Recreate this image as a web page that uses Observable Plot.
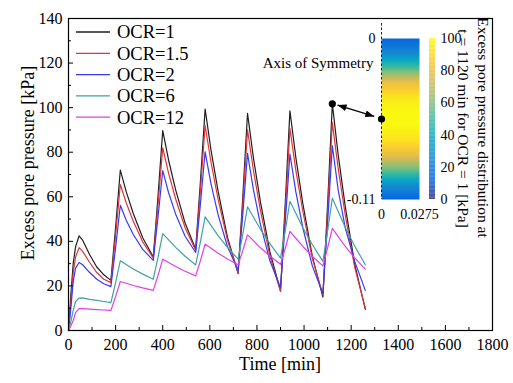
<!DOCTYPE html>
<html>
<head>
<meta charset="utf-8">
<script src="https://cdn.jsdelivr.net/npm/d3@7"></script>
<script src="https://cdn.jsdelivr.net/npm/@observablehq/plot@0.6"></script>
<style>
  html, body { margin: 0; padding: 0; background: #fff; }
  #chart { position: relative; width: 513px; height: 383px; font-family: "Liberation Serif", "Times New Roman", serif; }
  #chart > svg { position: absolute; overflow: visible; }
</style>
</head>
<body>
<div id="chart"></div>
<script>
// Time axis of the simulation [min]
const time = [
  0, 10, 20, 30, 45, 60, 90, 120, 150,
  180, 200, 220, 245, 275, 315,
  360, 380, 400, 425, 455, 495,
  540, 560, 580, 605, 635, 675,
  720, 740, 760, 785, 815, 855,
  900, 920, 940, 965, 995, 1035,
  1080, 1100, 1120, 1145, 1175, 1215,
  1260
];

// Excess pore pressure [kPa] for each over-consolidation ratio
const ocr1 = [
  0, 16, 30, 37.5, 42.5, 40.5, 34, 28.5, 25,
  22.5, 46.3, 72, 62.3, 52.5, 41.6,
  33, 60.2, 89.7, 76.4, 63.1, 48.2,
  36.5, 66.7, 99.4, 80.9, 62.5, 41.8,
  25.5, 60, 97.4, 77.5, 57.6, 35.3,
  17.8, 56.6, 98.6, 77.7, 56.8, 33.4,
  15, 56.6, 101.7, 78.7, 55.6, 29.8,
  9.5
];
const ocr15 = [
  0, 13, 26, 33, 37.2, 35.5, 30.5, 26, 23,
  21.5, 42.6, 65.5, 57.3, 49, 39.8,
  32.5, 56.3, 82, 70.5, 59, 46.1,
  36, 62.9, 92, 75.5, 59, 40.5,
  26, 56.7, 90, 71.9, 53.8, 33.4,
  17.5, 52.6, 90.7, 72, 53.4, 32.4,
  16, 53.2, 93.4, 72.6, 51.7, 28.3,
  10
];
const ocr2 = [
  0, 10, 22, 28, 30.5, 29.5, 26, 23, 21,
  19.7, 37.2, 56.2, 49.5, 43.1, 36.4,
  31.5, 50.8, 71.7, 61.8, 52.2, 42.3,
  35, 56.7, 80.2, 65.8, 52, 37.6,
  27, 52.2, 79.5, 63.2, 47.5, 31.3,
  19.2, 48, 79.2, 62.3, 46, 29,
  16.5, 48.4, 82.9, 63, 46, 31,
  18
];
const ocr6 = [
  0, 4, 9, 13, 14.5, 14.6, 14, 13.5, 13,
  12.5, 21.5, 31.3, 29.6, 27.6, 25.3,
  23, 32.8, 43.5, 40.7, 37.3, 33.3,
  29.4, 39.8, 51, 47.2, 42.6, 37.3,
  32, 43.3, 55.5, 50.9, 45.4, 39,
  32.5, 44.7, 58, 52.6, 46.1, 38.6,
  31, 44.6, 59.4, 53.4, 46.2, 37.9,
  29.5
];
const ocr12 = [
  0, 2, 4.5, 8, 9.8, 9.8, 9.6, 9.4, 9.2,
  9, 15.2, 22, 21.2, 20.2, 19.1,
  18, 24.7, 32, 30.5, 28.7, 26.6,
  24.5, 31.3, 38.7, 36.9, 34.7, 32.1,
  29.5, 35.9, 42.9, 40.3, 37.1, 33.4,
  29.7, 36.8, 44.5, 41.4, 37.7, 33.3,
  29, 37.1, 45.8, 42.1, 37.7, 32.6,
  27.5
];

const seriesNames = ["OCR=1", "OCR=1.5", "OCR=2", "OCR=6", "OCR=12"];
const seriesValues = [ocr1, ocr15, ocr2, ocr6, ocr12];
const seriesColors = ["#1f1f1f", "#e0353c", "#3a3af2", "#3fa39e", "#e23fe6"];

const xTicks = [0, 200, 400, 600, 800, 1000, 1200, 1400, 1600, 1800];
const xMinorTicks = [100, 300, 500, 700, 900, 1100, 1300, 1500, 1700];
const yTicks = [0, 20, 40, 60, 80, 100, 120, 140];
const yMinorTicks = [10, 30, 50, 70, 90, 110, 130];

// Snapshot of the pore pressure field in the soil element
const snapshotTime = 1120;
const depth = [0, -0.01, -0.02, -0.03, -0.04, -0.05, -0.06, -0.07, -0.08, -0.09, -0.10, -0.11];
const snapshotPressure = [14, 26, 52, 80, 94, 99.5, 99, 93, 79, 56, 29, 13];
const widthTicks = [0, 0.0275];
const depthTicks = [0, -0.11];
const colorTicks = [0, 20, 40, 60, 80, 100];

// parula colour map
const parulaStops = [0, 12.5, 25, 37.5, 50, 62.5, 75, 87.5, 100];
const parulaColors = ["#352a87", "#0363e1", "#1485d4", "#06a7c6", "#38b99e", "#92bf73", "#d9ba56", "#fcce2e", "#f9fb0e"];

const serif = '"Liberation Serif", "Times New Roman", serif';
const chart = document.getElementById("chart");

// ---- main chart ----
const rows = seriesNames.flatMap((name, i) =>
  time.map((t, j) => ({t, v: seriesValues[i][j], name}))
);
const snapshotPoint = {t: snapshotTime, v: ocr1[time.indexOf(snapshotTime)]};

const main = Plot.plot({
  width: 513, height: 383,
  marginLeft: 68, marginRight: 21, marginTop: 18, marginBottom: 53,
  style: {fontFamily: serif, fontSize: "16px", color: "#000", background: "transparent"},
  x: {domain: [0, 1800], label: null},
  y: {domain: [0, 140], label: null},
  color: {domain: seriesNames, range: seriesColors},
  marks: [
    Plot.line(rows, {x: "t", y: "v", z: "name", stroke: "name", strokeWidth: 1.2}),
    Plot.axisX(xTicks, {tickSize: -5, tickPadding: 13, tickFormat: d => String(d)}),
    Plot.axisX(xMinorTicks, {tickSize: -3, tickFormat: () => ""}),
    Plot.axisY(yTicks, {tickSize: -5, tickPadding: 11, tickFormat: d => String(d)}),
    Plot.axisY(yMinorTicks, {tickSize: -3, tickFormat: () => ""}),
    Plot.frame({stroke: "#000", strokeWidth: 1.2}),
    Plot.dot([snapshotPoint], {x: "t", y: "v", r: 3.6, fill: "#000"}),
    Plot.text(["Time [min]"], {text: d => d, frameAnchor: "bottom", textAnchor: "middle", dx: -0.5, dy: 39.5, fontSize: 18}),
    Plot.text(["Excess pore pressure [kPa]"], {text: d => d, frameAnchor: "left", textAnchor: "middle", dx: -40.5, dy: -11.5, rotate: -90, fontSize: 18})
  ]
});
main.style.left = "0px"; main.style.top = "0px";
chart.appendChild(main);

// ---- inset: pressure field at the snapshot ----
const colorScale = {type: "linear", domain: parulaStops, range: parulaColors};
const fieldRows = depth.flatMap((d, i) => widthTicks.map(w => ({w, d, u: snapshotPressure[i]})));
const insetLeft = 250, insetTop = 0;
const midDepth = (depth[0] + depth[depth.length - 1]) / 2;

const inset = Plot.plot({
  width: 263, height: 250,
  marginLeft: 131, marginRight: 94, marginTop: 38, marginBottom: 51,
  style: {fontFamily: serif, fontSize: "14px", color: "#000", background: "transparent"},
  x: {domain: widthTicks, label: null},
  y: {domain: [depth[depth.length - 1], depth[0]], label: null},
  color: colorScale,
  marks: [
    Plot.raster(fieldRows, {x: "w", y: "d", fill: "u", interpolate: "barycentric", pixelSize: 1}),
    Plot.ruleX([0], {stroke: "#222", strokeWidth: 1, strokeDasharray: "2.5,2", insetTop: -15}),
    Plot.axisX(widthTicks, {tickSize: 0, tickPadding: 10, tickFormat: d => String(d)}),
    Plot.axisY(depthTicks, {tickSize: 0, tickPadding: 6, tickFormat: d => String(d)}),
    Plot.text(["Axis of Symmetry"], {text: d => d, frameAnchor: "top-left", textAnchor: "end", dx: -8, dy: 19, fontSize: 15}),
    Plot.dot([{w: 0, d: midDepth}], {x: "w", y: "d", r: 3.6, fill: "#000"})
  ]
});
inset.style.left = insetLeft + "px"; inset.style.top = insetTop + "px";
chart.appendChild(inset);

// ---- colour bar ----
const barLeft = 420;
const ramp = d3.range(0, 100, 0.5);
const colorbar = Plot.plot({
  width: 93, height: 250,
  marginLeft: 9, marginRight: 78, marginTop: 38, marginBottom: 51,
  style: {fontFamily: serif, fontSize: "14px", color: "#000", background: "transparent"},
  x: {domain: [0, 1], axis: null},
  y: {domain: [0, 100], label: null},
  color: colorScale,
  marks: [
    Plot.rect(ramp, {x1: 0, x2: 1, y1: d => d, y2: d => d + 0.5, fill: d => d + 0.25}),
    Plot.axisY(colorTicks, {anchor: "right", tickSize: 0, tickPadding: 5, tickFormat: d => String(d)})
  ]
});
colorbar.style.left = barLeft + "px"; colorbar.style.top = "0px";
chart.appendChild(colorbar);

// ---- overlay: legend, colour bar title, arrow ----
const svg = d3.create("svg")
  .attr("width", 513).attr("height", 383)
  .attr("font-family", serif)
  .style("left", "0px").style("top", "0px");

const legend = svg.append("g");
seriesNames.forEach((name, i) => {
  const y = 32 + i * 21.3;
  legend.append("line").attr("x1", 76).attr("x2", 110).attr("y1", y).attr("y2", y)
    .attr("stroke", seriesColors[i]).attr("stroke-width", 1.3);
  legend.append("text").attr("x", 117).attr("y", y).attr("dy", "0.35em")
    .attr("font-size", 18.5).text(name);
});

const titleLines = ["Excess pore pressure distribution at", `t = ${snapshotTime} min for OCR = 1 [kPa]`];
[[483, 127.5], [463, 128.5]].forEach(([x, y], i) => {
  svg.append("text")
    .attr("transform", `translate(${x},${y}) rotate(90)`)
    .attr("text-anchor", "middle").attr("dy", "0.35em")
    .attr("font-size", 15.5).text(titleLines[i]);
});

// double-headed arrow linking the peak to the snapshot field
const defs = svg.append("defs");
["head-start", "head-end"].forEach((id, i) => {
  defs.append("marker").attr("id", id)
    .attr("viewBox", "0 -4 9 8").attr("refX", 9).attr("refY", 0)
    .attr("markerWidth", 9).attr("markerHeight", 8).attr("markerUnits", "userSpaceOnUse")
    .attr("orient", i === 0 ? "auto-start-reverse" : "auto")
    .append("path").attr("d", "M0,-3.5L9,0L0,3.5Z").attr("fill", "#000");
});
const p1 = [main.scale("x").apply(snapshotPoint.t), main.scale("y").apply(snapshotPoint.v)];
const p2 = [insetLeft + inset.scale("x").apply(0), insetTop + inset.scale("y").apply(midDepth)];
const len = Math.hypot(p2[0] - p1[0], p2[1] - p1[1]);
const ux = (p2[0] - p1[0]) / len, uy = (p2[1] - p1[1]) / len;
svg.append("line")
  .attr("x1", p1[0] + ux * 6).attr("y1", p1[1] + uy * 6)
  .attr("x2", p2[0] - ux * 7).attr("y2", p2[1] - uy * 7)
  .attr("stroke", "#000").attr("stroke-width", 1.2)
  .attr("marker-start", "url(#head-start)").attr("marker-end", "url(#head-end)");

chart.appendChild(svg.node());
</script>
</body>
</html>
